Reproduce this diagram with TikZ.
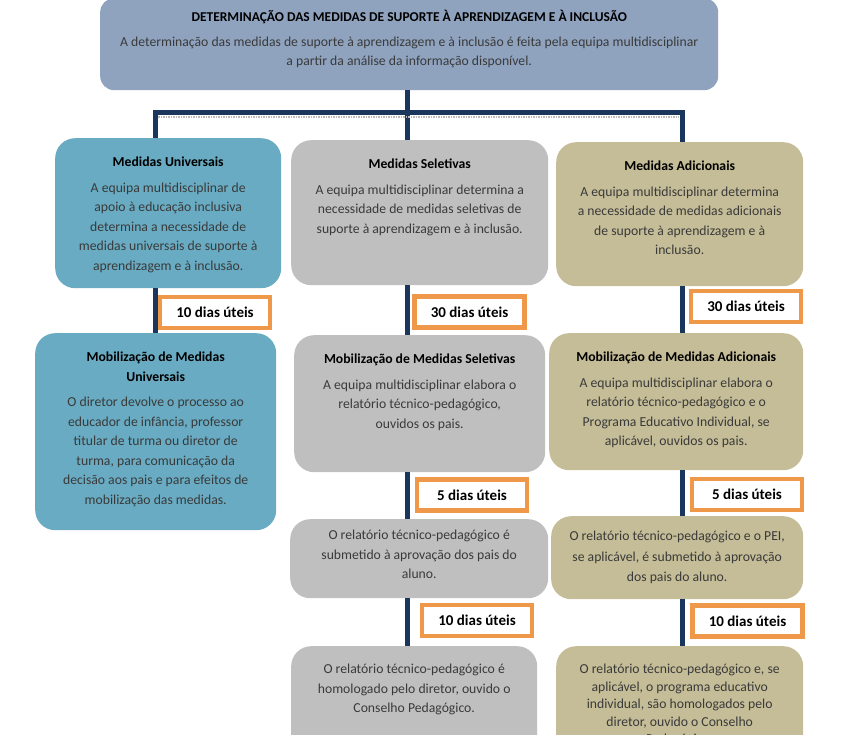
\documentclass[tikz,border=0pt]{standalone}
\usepackage{fontspec}
\setmainfont{Carlito}
\usetikzlibrary{calc}
\definecolor{navy}{HTML}{1B365D}
\definecolor{orng}{HTML}{F0984A}
\definecolor{topbg}{HTML}{8FA3BF}
\definecolor{univbg}{HTML}{68ABC2}
\definecolor{selbg}{HTML}{BFBFBF}
\definecolor{adibg}{HTML}{C4BD97}
\definecolor{bodytxt}{HTML}{3A3A3A}
\newcommand{\cardfont}{\fontsize{13.7}{19.5}\selectfont}
\newcommand{\cardtext}[3]{\parbox[t][#2pt][t]{#1pt}{\centering #3}}
\newcommand{\cardtitle}[1]{{\color{black}\bfseries #1}}
\tikzset{
  card/.style={rounded corners=20pt,anchor=north west,inner xsep=8pt,inner ysep=19pt,font=\cardfont,text=bodytxt},
  ucard/.style={card,fill=univbg},
  scard/.style={card,fill=selbg},
  acard/.style={card,fill=adibg},
  days/.style={draw=orng,line width=4.5pt,fill=white,minimum width=110pt,minimum height=31pt,inner sep=0pt,font=\fontsize{15}{18}\selectfont\bfseries,text=black},
  link/.style={draw=navy,line width=5pt,line join=miter},
  bardots/.style={draw=gray!55,line width=1.5pt,densely dotted},
}

\begin{document}
\begin{tikzpicture}[x=1pt,y=-1pt]
\useasboundingbox (0,0) rectangle (841,735);
\clip (0,0) rectangle (841,735);
% column lines
\coordinate (cL) at (155,0);
\coordinate (cM) at (407,0);
\coordinate (cR) at (682,0);
\coordinate (bus) at (407,112.5);

\node[card,fill=topbg,rounded corners=14pt,inner ysep=12pt] (top) at (100,-2) {\cardtext{602}{68}{{\fontsize{13.5}{15}\selectfont\cardtitle{DETERMINAÇÃO DAS MEDIDAS DE SUPORTE À APRENDIZAGEM E À INCLUSÃO}}\\[5pt]
  A determinação das medidas de suporte à aprendizagem e à inclusão é feita pela equipa multidisciplinar\\ a partir da análise da informação disponível.}};

% first row
\node[ucard] (univ) at (55,138) {\cardtext{210}{112}{\cardtitle{Medidas Universais}\\[6pt]
  A equipa multidisciplinar de\\ apoio à educação inclusiva\\ determina a necessidade de\\ medidas universais de suporte à\\ aprendizagem e à inclusão.}};
\node[scard] (selet) at (291,140) {\cardtext{241}{107}{\cardtitle{Medidas Seletivas}\\[6pt]
  A equipa multidisciplinar determina a\\ necessidade de medidas seletivas de\\ suporte à aprendizagem e à inclusão.}};
\node[acard] (adic) at (556,142) {\cardtext{231}{106}{\cardtitle{Medidas Adicionais}\\[6pt]
  A equipa multidisciplinar determina\\ a necessidade de medidas adicionais\\ de suporte à aprendizagem e à\\ inclusão.}};

% second row
\node[ucard] (mobU) at (35,333) {\cardtext{225}{159}{\cardtitle{Mobilização de Medidas\\ Universais}\\[6pt]
  O diretor devolve o processo ao\\ educador de infância, professor\\ titular de turma ou diretor de\\ turma, para comunicação da\\ decisão aos pais e para efeitos de\\ mobilização das medidas.}};
\node[scard] (mobS) at (294,335) {\cardtext{235}{99}{\cardtitle{Mobilização de Medidas Seletivas}\\[6pt]
  A equipa multidisciplinar elabora o\\ relatório técnico-pedagógico,\\ ouvidos os pais.}};
\node[acard] (mobA) at (549,333) {\cardtext{238}{99}{\cardtitle{Mobilização de Medidas Adicionais}\\[6pt]
  A equipa multidisciplinar elabora o\\ relatório técnico-pedagógico e o\\ Programa Educativo Individual, se\\ aplicável, ouvidos os pais.}};

% third and fourth rows
\node[scard,inner ysep=11pt] (aprS) at (290,519) {\cardtext{242}{57}{O relatório técnico-pedagógico é\\ submetido à aprovação dos pais do\\ aluno.}};
\node[acard,inner ysep=15pt] (aprA) at (551,516) {\cardtext{236}{53}{\fontsize{13.7}{20.5}\selectfont O relatório técnico-pedagógico e o PEI,\\ se aplicável, é submetido à aprovação\\ dos pais do aluno.}};
\node[scard,inner ysep=18pt] (homS) at (291,646) {\cardtext{230}{80}{O relatório técnico-pedagógico é\\ homologado pelo diretor, ouvido o\\ Conselho Pedagógico.}};
\node[acard,inner ysep=18pt] (homA) at (556,646) {\cardtext{231}{96}{\fontsize{13.7}{17.5}\selectfont O relatório técnico-pedagógico e, se\\ aplicável, o programa educativo\\ individual, são homologados pelo\\ diretor, ouvido o Conselho\\ Pedagógico.}};

% connectors
\draw[link] (top.south -| bus) -- (bus);
\draw[link] (univ.north -| cL) |- (bus) -| (adic.north -| cR);
\draw[link] (bus) -- (selet.north -| cM);
\draw[bardots] ($(bus -| cL)+(3,4.5)$) -- ($(bus -| cR)+(-3,4.5)$);
\draw[link] (univ.south -| cL) -- (mobU.north -| cL);
\draw[link] (selet.south -| cM) -- (mobS.north -| cM);
\draw[link] (mobS.south -| cM) -- (aprS.north -| cM);
\draw[link] (aprS.south -| cM) -- (homS.north -| cM);
\draw[link] (adic.south -| cR) -- (mobA.north -| cR);
\draw[link] (mobA.south -| cR) -- (aprA.north -| cR);
\draw[link] (aprA.south -| cR) -- (homA.north -| cR);

% deadlines
\node[days] (d1) at (215,312.5) {10 dias úteis};
\node[days] (d2) at (469.5,312) {30 dias úteis};
\node[days] (d3) at (746,306.5) {30 dias úteis};
\node[days] (d4) at (472,495) {5 dias úteis};
\node[days] (d5) at (747,494.5) {5 dias úteis};
\node[days] (d6) at (477,620.5) {10 dias úteis};
\node[days] (d7) at (747.5,621) {10 dias úteis};
\end{tikzpicture}
\end{document}
